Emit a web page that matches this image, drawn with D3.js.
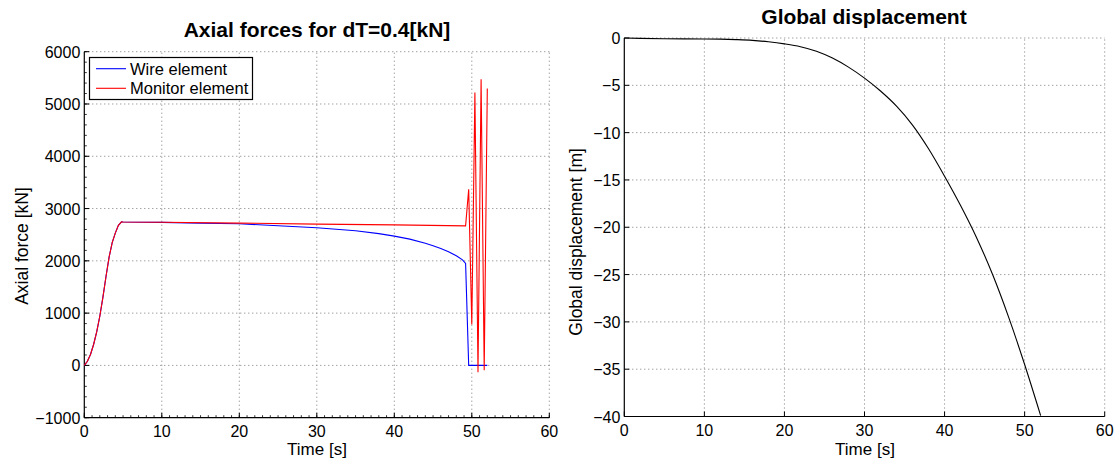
<!DOCTYPE html>
<html>
<head>
<meta charset="utf-8">
<script src="https://cdn.jsdelivr.net/npm/d3@7"></script>
<style>
  body { margin: 0; background: #fff; }
  svg { display: block; font-family: "Liberation Sans", Arial, sans-serif; }
</style>
</head>
<body>
<div id="chart"></div>
<script>
// ---- data ----
const riseT = [0, 0.4, 0.8, 1.2, 1.6, 2.0, 2.4, 2.8, 3.2, 3.6, 4.0, 4.4, 4.8];
const riseF = [0, 80, 210, 400, 640, 940, 1300, 1700, 2070, 2350, 2530, 2680, 2745];

const wireT = [5, 10, 15, 20, 25, 30, 35, 38, 40, 42, 44, 45, 46, 47, 48, 48.8, 49.2, 49.6, 50.0, 50.4, 50.8, 51.2, 51.6, 52.0];
const wireF = [2742, 2735, 2722, 2708, 2672, 2632, 2575, 2520, 2473, 2415, 2335, 2287, 2235, 2172, 2096, 2020, 1950, 0, 0, 0, 0, 0, 0, 0];

const monT = [5, 10, 20, 30, 40, 49.2, 49.6, 50.0, 50.4, 50.8, 51.2, 51.6, 52.0];
const monF = [2742, 2738, 2722, 2703, 2688, 2668, 3369, 782, 5218, -130, 5472, -92, 5294];

const dispT = [0, 2, 5, 10, 12, 14, 16, 18, 20, 22, 24, 26, 28, 30, 32, 34, 36, 38, 40, 42, 44, 46, 48, 50, 52];
const dispV = [0, -0.04, -0.08, -0.1, -0.12, -0.17, -0.25, -0.4, -0.62, -0.92, -1.4, -2.12, -3.08, -4.24,
               -5.6, -7.2, -9.2, -11.7, -14.6, -17.7, -21.1, -25.0, -29.5, -34.5, -39.9];

const xTicks = [0, 10, 20, 30, 40, 50, 60];
const forceTicks = [-1000, 0, 1000, 2000, 3000, 4000, 5000, 6000];
const dispTicks = [-40, -35, -30, -25, -20, -15, -10, -5, 0];
const legendLabels = ["Wire element", "Monitor element"];
const seriesColors = ["#0000ff", "#ff0000"];

const width = 1118, height = 461;
const svg = d3.select("#chart").append("svg")
  .attr("width", width).attr("height", height);

const fmt = v => String(v).replace("-", "\u2212");
const zip = (a, b) => a.map((v, i) => [v, b[i]]);

function drawAxes(g, x, y, yTicks, minorX, minorY) {
  const [x0, x1] = x.range();
  const [y0, y1] = y.range(); // y0 bottom, y1 top

  // dotted grid
  g.selectAll(".gx").data(xTicks.slice(1)).enter().append("line")
    .attr("x1", d => x(d)).attr("x2", d => x(d))
    .attr("y1", y0).attr("y2", y1)
    .attr("stroke", "#7a7a7a").attr("stroke-width", 1)
    .attr("stroke-dasharray", "1,3");
  g.selectAll(".gy").data(yTicks.slice(1)).enter().append("line")
    .attr("y1", d => y(d)).attr("y2", d => y(d))
    .attr("x1", x0).attr("x2", x1)
    .attr("stroke", "#7a7a7a").attr("stroke-width", 1)
    .attr("stroke-dasharray", "1,3");

  // axis lines
  g.append("line").attr("x1", x0).attr("x2", x1).attr("y1", y0).attr("y2", y0)
    .attr("stroke", "#000").attr("stroke-width", 1.2);
  g.append("line").attr("x1", x0).attr("x2", x0).attr("y1", y0).attr("y2", y1)
    .attr("stroke", "#000").attr("stroke-width", 1.2);

  // minor ticks (inward)
  if (minorX) {
    g.selectAll(".mx").data(minorX).enter().append("line")
      .attr("x1", d => x(d)).attr("x2", d => x(d))
      .attr("y1", y0).attr("y2", y0 - 2.5)
      .attr("stroke", "#000").attr("stroke-width", 0.8);
  }
  if (minorY) {
    g.selectAll(".my").data(minorY).enter().append("line")
      .attr("y1", d => y(d)).attr("y2", d => y(d))
      .attr("x1", x0).attr("x2", x0 + 2.5)
      .attr("stroke", "#000").attr("stroke-width", 0.8);
  }

  // major ticks (inward)
  g.selectAll(".tx").data(xTicks).enter().append("line")
    .attr("x1", d => x(d)).attr("x2", d => x(d))
    .attr("y1", y0).attr("y2", y0 - 5)
    .attr("stroke", "#000").attr("stroke-width", 1);
  g.selectAll(".ty").data(yTicks).enter().append("line")
    .attr("y1", d => y(d)).attr("y2", d => y(d))
    .attr("x1", x0).attr("x2", x0 + 5)
    .attr("stroke", "#000").attr("stroke-width", 1);

  // tick labels
  g.selectAll(".lx").data(xTicks).enter().append("text")
    .attr("x", d => x(d)).attr("y", y0 + 19)
    .attr("text-anchor", "middle")
    .style("font-size", "16px")
    .text(d => fmt(d));
  g.selectAll(".ly").data(yTicks).enter().append("text")
    .attr("x", x0 - 4).attr("y", d => y(d) + 6)
    .attr("text-anchor", "end")
    .style("font-size", "16px")
    .text(d => fmt(d));
}

// ---- left: axial forces ----
const xL = d3.scaleLinear().domain([0, 60]).range([84.3, 549.3]);
const yL = d3.scaleLinear().domain([-1000, 6000]).range([417.7, 51.7]);
const gL = svg.append("g");

drawAxes(gL, xL, yL, forceTicks, d3.range(0, 61, 1), d3.range(-1000, 6001, 200));

const lineL = d3.line().x(d => xL(d[0])).y(d => yL(d[1]));
const wireData = zip(riseT, riseF).concat(zip(wireT, wireF));
const monData = zip(riseT, riseF).concat(zip(monT, monF));

gL.append("path").datum(wireData).attr("d", lineL)
  .attr("fill", "none").attr("stroke", seriesColors[0]).attr("stroke-width", 1.1);
gL.append("path").datum(monData).attr("d", lineL)
  .attr("fill", "none").attr("stroke", seriesColors[1]).attr("stroke-width", 1.1);

gL.append("text").attr("x", 317).attr("y", 37)
  .attr("text-anchor", "middle").style("font-size", "21px").style("font-weight", "bold")
  .text("Axial forces for dT=0.4[kN]");
gL.append("text").attr("x", 317).attr("y", 455)
  .attr("text-anchor", "middle").style("font-size", "17px")
  .text("Time [s]");
gL.append("text").attr("transform", "translate(28,246) rotate(-90)")
  .attr("text-anchor", "middle").style("font-size", "17.5px")
  .text("Axial force [kN]");

// legend
const leg = gL.append("g");
leg.append("rect").attr("x", 89.5).attr("y", 57.5).attr("width", 163).attr("height", 42)
  .attr("fill", "#fff").attr("stroke", "#000").attr("stroke-width", 1.2);
const legRows = leg.selectAll(".row").data(legendLabels).enter().append("g")
  .attr("transform", (d, i) => `translate(0, ${68.7 + i * 19.6})`);
legRows.append("line").attr("x1", 96).attr("x2", 126).attr("y1", 0).attr("y2", 0)
  .attr("stroke", (d, i) => seriesColors[i]).attr("stroke-width", 1.1);
legRows.append("text").attr("x", 130).attr("y", 6)
  .style("font-size", "16.5px").text(d => d);

// ---- right: global displacement ----
const xR = d3.scaleLinear().domain([0, 60]).range([624.3, 1104.7]);
const yR = d3.scaleLinear().domain([-40, 0]).range([416.5, 38]);
const gR = svg.append("g");

drawAxes(gR, xR, yR, dispTicks, null, null);

const lineR = d3.line().x(d => xR(d[0])).y(d => yR(d[1])).curve(d3.curveMonotoneX);
gR.append("path").datum(zip(dispT, dispV)).attr("d", lineR)
  .attr("fill", "none").attr("stroke", "#000").attr("stroke-width", 1.1);

gR.append("text").attr("x", 864).attr("y", 24)
  .attr("text-anchor", "middle").style("font-size", "21px").style("font-weight", "bold")
  .text("Global displacement");
gR.append("text").attr("x", 865).attr("y", 455)
  .attr("text-anchor", "middle").style("font-size", "17px")
  .text("Time [s]");
gR.append("text").attr("transform", "translate(582,242) rotate(-90)")
  .attr("text-anchor", "middle").style("font-size", "17.5px")
  .text("Global displacement [m]");
</script>
</body>
</html>
